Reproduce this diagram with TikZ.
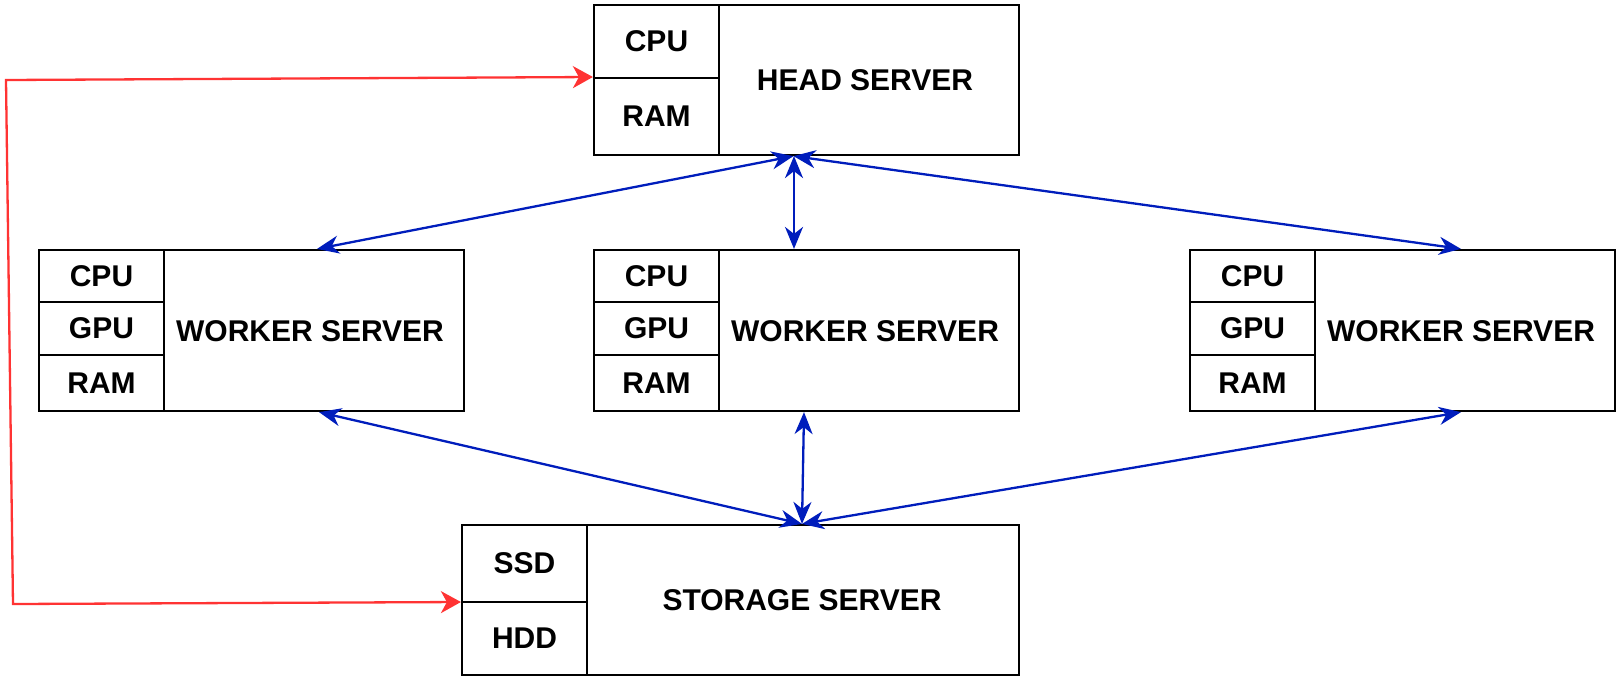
\documentclass[tikz,border=0pt]{standalone}
\usepackage{fontspec}
\setmainfont{Liberation Sans}
\usetikzlibrary{arrows.meta}
\definecolor{linkblue}{HTML}{001DBC}
\definecolor{linkred}{HTML}{FF3333}
\tikzset{
  cell/.style={draw=black, line width=2.2pt, inner sep=0pt, font=\fontsize{30}{33}\selectfont\bfseries},
  lbl/.style={inner sep=0pt, font=\fontsize{30}{33}\selectfont\bfseries},
  bluelink/.style={draw=linkblue, line width=2.3pt, {Stealth[length=22pt,width=18pt,inset=7pt]}-{Stealth[length=22pt,width=18pt,inset=7pt]}},
  redlink/.style={draw=linkred, line width=2.3pt, {Stealth[length=20pt,width=22pt,inset=6pt]}-{Stealth[length=20pt,width=22pt,inset=6pt]}}
}
\begin{document}
\begin{tikzpicture}[x=1pt,y=-1pt]
\useasboundingbox (0,0) rectangle (1621,681);
% head server
\node[cell, minimum width=425pt, minimum height=150pt] (head) at (806.5,80) {};
\node[lbl] (headlbl) at (865,80) {HEAD SERVER};
\node[cell, minimum width=125pt, minimum height=73pt] (headcpu) at (656.5,41.5) {CPU};
\node[cell, minimum width=125pt, minimum height=77pt] (headram) at (656.5,116.5) {RAM};
% workers
\foreach \n/\x in {lw/39, mw/594, rw/1190}{
  \node[cell, minimum width=425pt, minimum height=161pt] (\n) at (\x+212.5,330.5) {};
  \node[lbl] (\n lbl) at (\x+125+146,331.5) {WORKER SERVER};
  \node[cell, minimum width=125pt, minimum height=52pt] (\n cpu) at (\x+62.5,276) {CPU};
  \node[cell, minimum width=125pt, minimum height=53pt] (\n gpu) at (\x+62.5,328.5) {GPU};
  \node[cell, minimum width=125pt, minimum height=56pt] (\n ram) at (\x+62.5,383) {RAM};
}
% storage
\node[cell, minimum width=557pt, minimum height=150pt] (stor) at (740.5,600) {};
\node[lbl] (storlbl) at (802,600) {STORAGE SERVER};
\node[cell, minimum width=125pt, minimum height=77pt] (storssd) at (524.5,563.5) {SSD};
\node[cell, minimum width=125pt, minimum height=73pt] (storhdd) at (524.5,638.5) {HDD};
% blue links
\draw[bluelink] ([xshift=-13pt]head.south) -- ([xshift=65.5pt]lw.north);
\draw[bluelink] ([xshift=-12.5pt]head.south) -- ([xshift=-12.5pt]mw.north);
\draw[bluelink] ([xshift=-13pt]head.south) -- ([xshift=58.5pt]rw.north);
\draw[bluelink] ([xshift=67.5pt]lw.south) -- ([xshift=61.5pt]stor.north);
\draw[bluelink] ([xshift=-2.5pt]mw.south) -- ([xshift=61.5pt]stor.north);
\draw[bluelink] ([xshift=58.5pt]rw.south) -- ([xshift=61.5pt]stor.north);
% red link
\coordinate (r1) at (6,80);
\coordinate (r2) at (13,604);
\draw[redlink] ([yshift=3pt]head.west) -- (r1) -- (r2) -- ([yshift=-2pt]stor.west);
\end{tikzpicture}
\end{document}
